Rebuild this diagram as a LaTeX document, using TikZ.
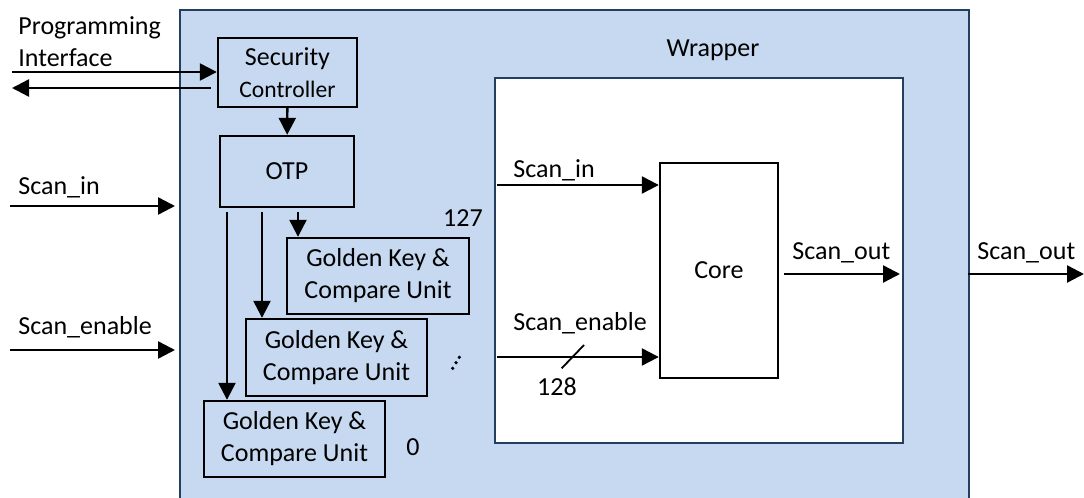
\documentclass[tikz,border=0pt]{standalone}
\usepackage{fontspec}
\setmainfont{Carlito}
\usetikzlibrary{arrows.meta}
\definecolor{wrapfill}{RGB}{198,217,240}
\definecolor{wrapline}{RGB}{36,62,96}
\begin{document}
\begin{tikzpicture}[x=0.5pt,y=-0.5pt,
  font=\fontsize{13}{16}\selectfont,
  block/.style={draw=black,line width=1.2pt,fill=wrapfill,align=center,inner sep=0pt},
  sig/.style={line width=1.2pt,-{Triangle[length=8.5pt,width=8.5pt]}},
  lbl/.style={inner sep=0pt,anchor=west}]
\useasboundingbox (0,0) rectangle (1084,498);
\clip (0,0) rectangle (1084,498);

% wrapper shell and inner core region
\draw[fill=wrapfill,draw=wrapline,line width=1.2pt] (180,10) rectangle (969,520);
\node[draw=wrapline,fill=white,line width=1.2pt,minimum width=204pt,minimum height=182.5pt,inner sep=0pt] (inner) at (699,260.5) {};
\node (wraptitle) at (713,50) {Wrapper};

% blocks
\node[block,minimum width=69.5pt,minimum height=34.5pt] (sc) at (287.5,72.5)
  {\fontsize{13}{15}\selectfont Security\\\fontsize{11.8}{15}\selectfont Controller};
\node[block,minimum width=67pt,minimum height=35.5pt] (otp) at (287,171.5) {OTP};
\node[block,minimum width=91pt,minimum height=38pt] (gk127) at (378,276) {Golden Key \&\\Compare Unit};
\node[block,minimum width=90.5pt,minimum height=38.5pt] (gkmid) at (336.5,357.5) {Golden Key \&\\Compare Unit};
\node[block,minimum width=90.5pt,minimum height=38pt] (gk0) at (294.5,439) {Golden Key \&\\Compare Unit};
\node[draw=black,line width=1.2pt,fill=white,minimum width=59pt,minimum height=107.5pt,inner sep=0pt] (core) at (719,270.5) {Core};

\node (n127) at (463,218) {127};
\node (n0) at (413,447) {0};
\fill (452.7,368.3) circle (0.9pt) (456,362.7) circle (0.9pt) (459.3,357.3) circle (0.9pt);

% programming interface
\node[lbl] (prog) at (18,28) {Programming};
\node[lbl] (intf) at (18,58) {Interface};
\coordinate (piin) at (12,72);
\coordinate (piout) at (12,88);
\draw[sig] (piin) -- (sc.west |- piin);
\draw[sig] ([xshift=-3pt]sc.west |- piout) -- (piout);

\draw[sig] (sc) -- (otp);

% key distribution from OTP
\draw[sig] ([yshift=-2pt]otp.south -| 227,0) -- (gk0.north -| 227,0);
\draw[sig] ([yshift=-2pt]otp.south -| 262,0) -- (gkmid.north -| 262,0);
\draw[sig] ([yshift=-2pt]otp.south -| 298,0) -- (gk127.north -| 298,0);

% external scan inputs
\node[lbl] (sinl) at (18,187) {Scan\_in};
\coordinate (sinA) at (10,206);
\coordinate (sinB) at (175,206);
\draw[sig] (sinA) -- (sinB);
\node[lbl] (senl) at (18,327) {Scan\_enable};
\coordinate (senA) at (10,350);
\coordinate (senB) at (175,350);
\draw[sig] (senA) -- (senB);

% scan inputs into the core
\node[lbl] (csinl) at (513,170) {Scan\_in};
\coordinate (csin) at (497,185);
\draw[sig] (csin) -- (core.west |- csin);
\node[lbl] (csenl) at (513,323) {Scan\_enable};
\coordinate (csen) at (497,357);
\draw[sig] (csen) -- (core.west |- csen);
\coordinate (slA) at (561.7,368.3);
\coordinate (slB) at (584,345);
\draw[line width=0.9pt] (slA) -- (slB);
\node (n128) at (557,387) {128};

% scan outputs
\node[lbl] (csoutl) at (792,253) {Scan\_out};
\coordinate (csout) at (900,274);
\draw[sig] ([xshift=2.5pt]core.east |- csout) -- (csout);
\node[lbl] (soutl) at (977,253) {Scan\_out};
\coordinate (soutA) at (968,274);
\coordinate (soutB) at (1084,274);
\draw[sig] (soutA) -- (soutB);
\end{tikzpicture}
\end{document}
